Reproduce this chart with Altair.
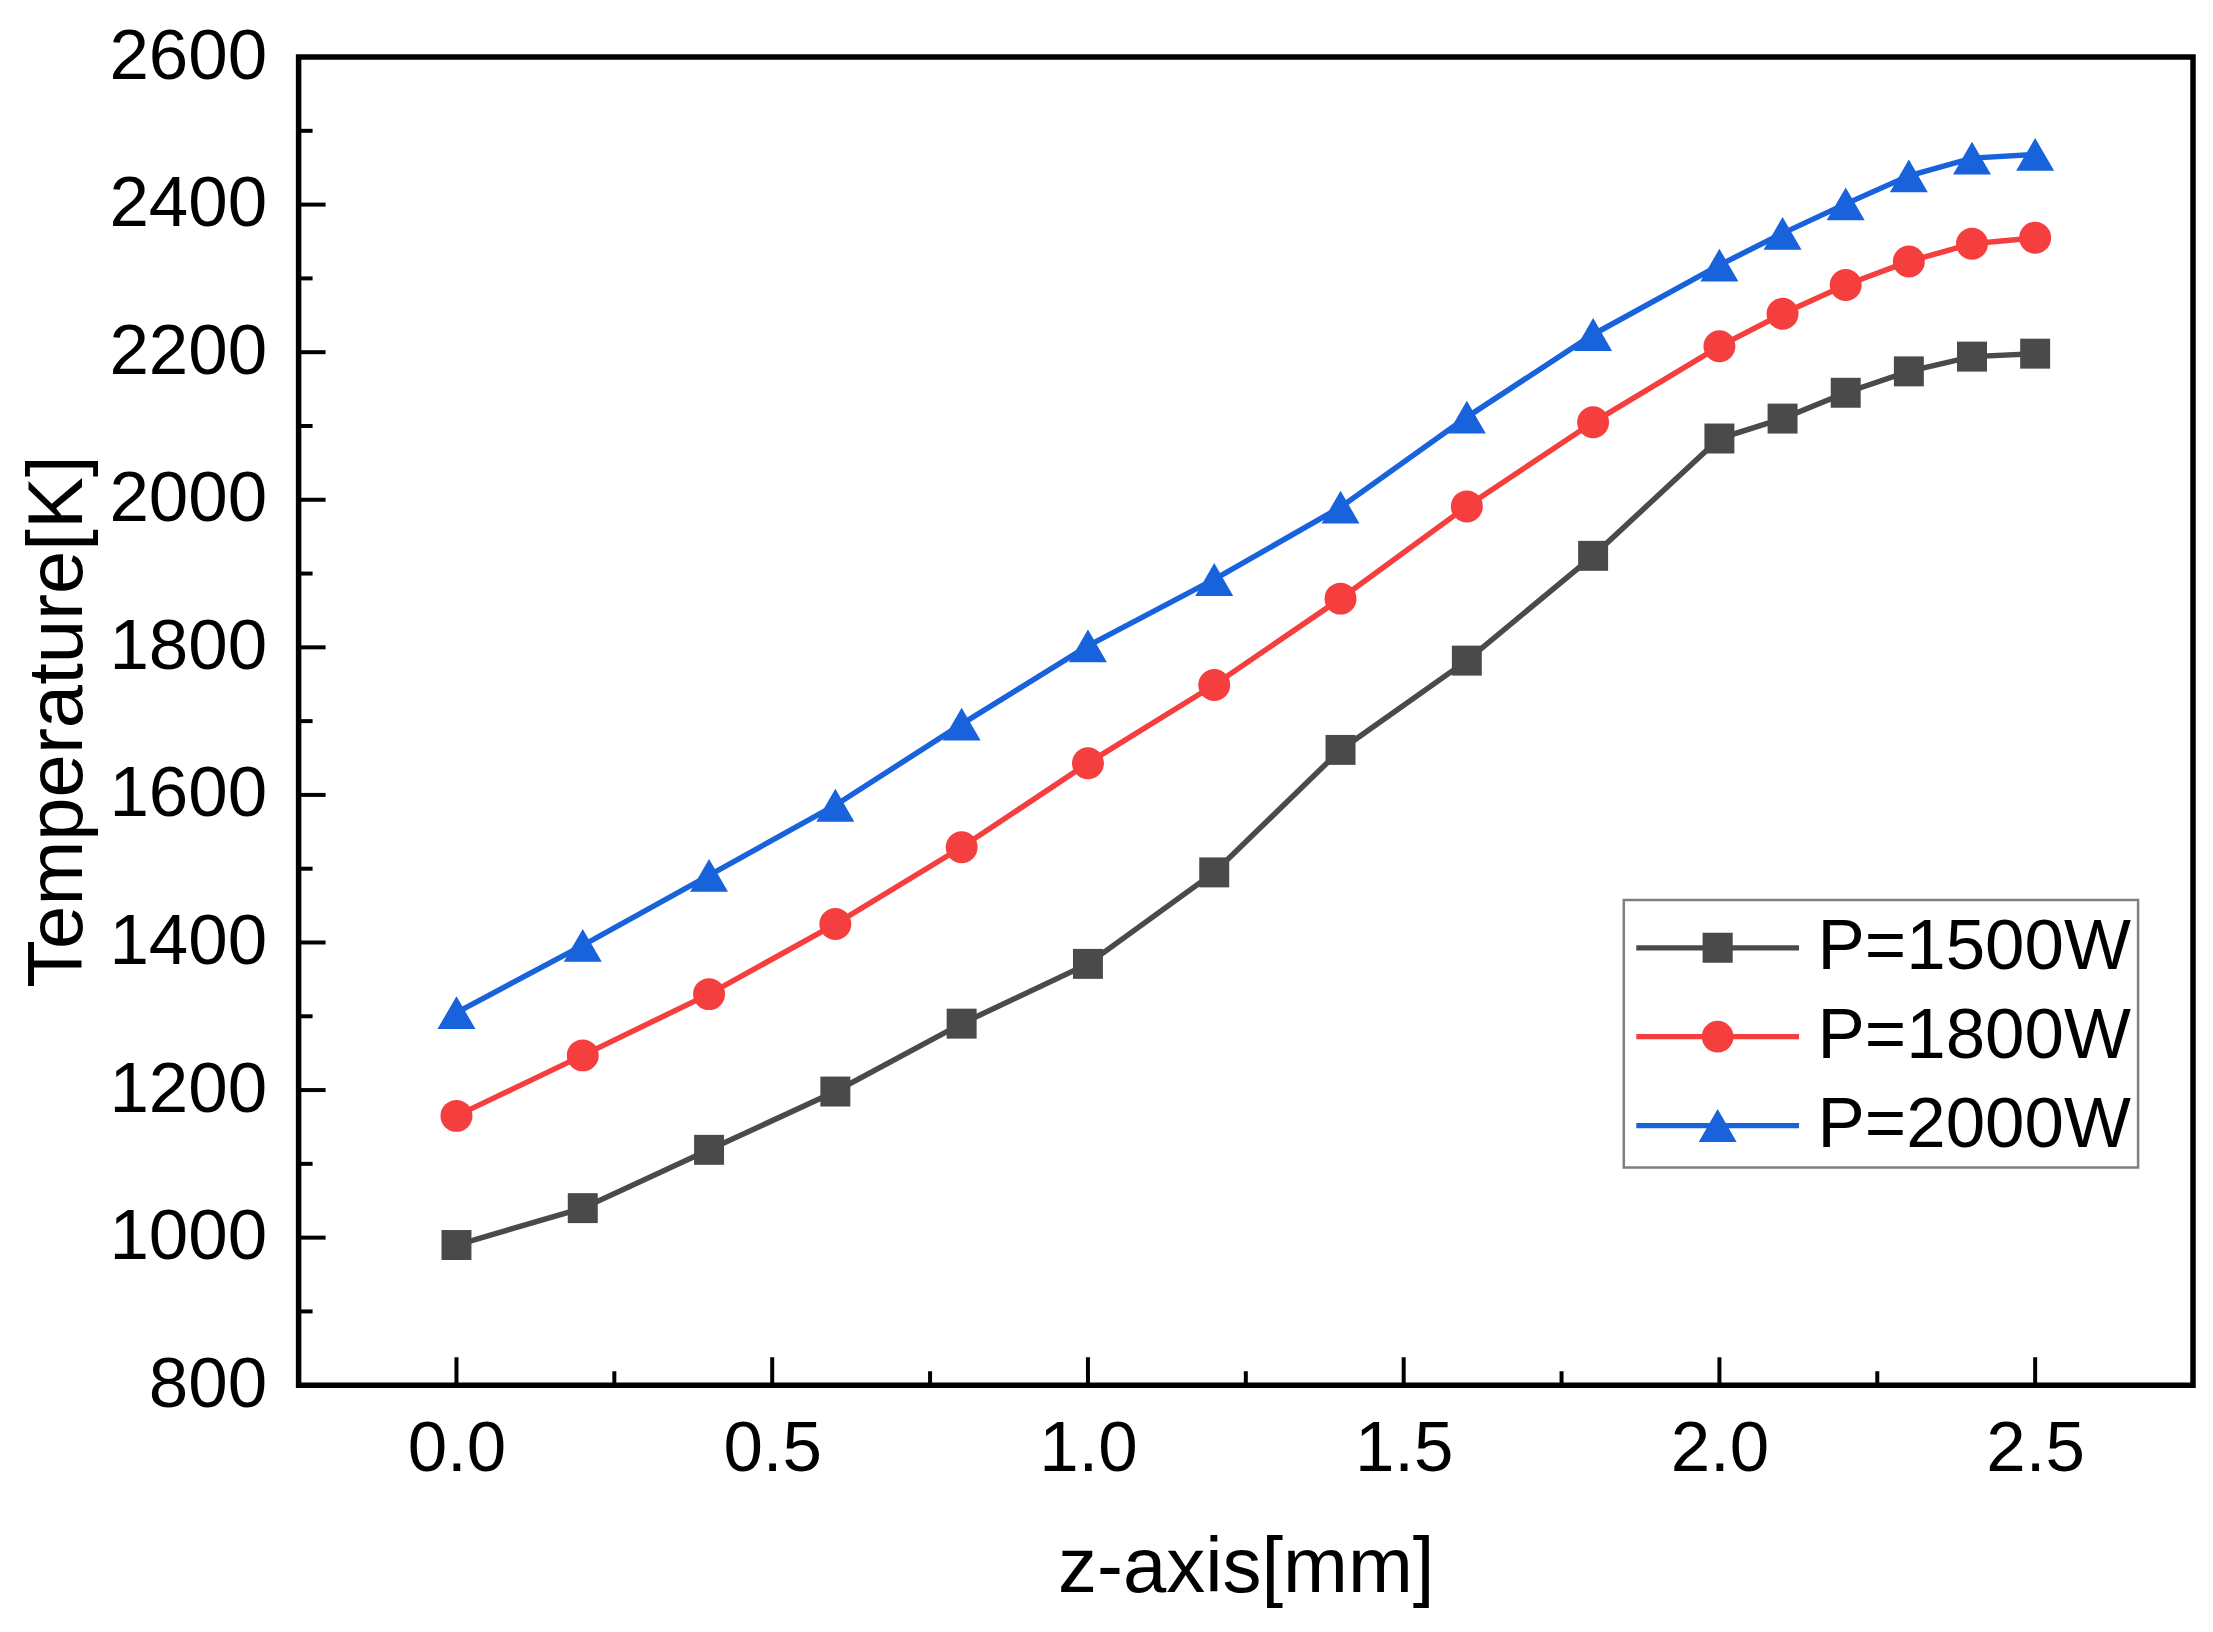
import altair as alt
import pandas as pd

# ---- data ----
z_mm = [0.0, 0.2, 0.4, 0.6, 0.8, 1.0, 1.2, 1.4, 1.6, 1.8, 2.0, 2.1, 2.2, 2.3, 2.4, 2.5]
p1500 = [990, 1040, 1119, 1198, 1290, 1371, 1495, 1661, 1782, 1924, 2083, 2110, 2145, 2174, 2194, 2198]
p1800 = [1165, 1247, 1330, 1425, 1529, 1643, 1749, 1866, 1991, 2105, 2208, 2252, 2291, 2323, 2347, 2355]
p2000 = [1305, 1396, 1491, 1586, 1696, 1802, 1892, 1990, 2112, 2224, 2318, 2361, 2401, 2439, 2463, 2468]
series_names = ["P=1500W", "P=1800W", "P=2000W"]
colors = ["#4a4a4a", "#f53e3e", "#1862dc"]
x_major = [0.0, 0.5, 1.0, 1.5, 2.0, 2.5]
x_minor = [0.25, 0.75, 1.25, 1.75, 2.25]
y_major = [800, 1000, 1200, 1400, 1600, 1800, 2000, 2200, 2400, 2600]
y_minor = [900, 1100, 1300, 1500, 1700, 1900, 2100, 2300, 2500]

rows = []
for name, vals in zip(series_names, [p1500, p1800, p2000]):
    for xv, yv in zip(z_mm, vals):
        rows.append({"z": xv, "T": yv, "series": name})
df = pd.DataFrame(rows)

W, H = 1897, 1330
FONT = "Liberation Sans"

xs = alt.Scale(domain=[-0.25, 2.75], nice=False, zero=False)
ys = alt.Scale(domain=[800, 2600], nice=False, zero=False)
cs = alt.Scale(domain=series_names, range=colors)

xaxis = alt.Axis(title="z-axis[mm]", values=x_major, format=".1f",
                 labelBaseline="alphabetic", labelPadding=85, labelFlush=False,
                 titleY=207, titleBaseline="alphabetic")
yaxis = alt.Axis(title="Temperature[K]", values=y_major, format="d",
                 labelPadding=32, labelFlush=False,
                 titleX=-217, titleY=H / 2, titleAngle=270,
                 titleBaseline="alphabetic", titleAlign="center")


def X(f):
    return alt.X(f, scale=xs, axis=xaxis)


def Y(f):
    return alt.Y(f, scale=ys, axis=yaxis)


base = alt.Chart(df)

shapes = ["square", "circle", "triangle-up"]
sizes = [900, 1024, 1444]
lines = []
points = []
for n, s, sz, c in zip(series_names, shapes, sizes, colors):
    sub = base.transform_filter(alt.datum.series == n)
    lines.append(sub.mark_line(strokeWidth=5.5, color=c).encode(x=X("z:Q"), y=Y("T:Q")))
    points.append(
        sub.mark_point(filled=True, shape=s, size=sz, color=c, opacity=1)
        .encode(x=X("z:Q"), y=Y("T:Q"))
    )

line_path = "M-2,-0.065H2V0.065H-2Z"
legend_paths = [
    line_path + " M-0.37,-0.37H0.37V0.37H-0.37Z",
    line_path + " M-0.39,0A0.39,0.39 0 1 1 0.39,0A0.39,0.39 0 1 1 -0.39,0Z",
    line_path + " M0,-0.405L0.466,0.405L-0.466,0.405Z",
]

legend_obj = alt.Legend(
    title=None, orient="none", legendX=1327, legendY=844,
    symbolSize=6642, symbolStrokeWidth=0, symbolOffset=46, symbolOpacity=1,
    labelOffset=59, labelFont=FONT, labelFontSize=71, labelColor="black",
    labelLimit=0, padding=7, strokeColor="#7f7f7f", rowPadding=13,
)

legend_layer = base.mark_point(filled=True, opacity=0).encode(
    x=X("z:Q"), y=Y("T:Q"),
    color=alt.Color("series:N", scale=cs, legend=legend_obj),
    shape=alt.Shape("series:N", scale=alt.Scale(domain=series_names, range=legend_paths),
                    legend=legend_obj),
)

xmaj = alt.Chart(pd.DataFrame({"v": x_major})).mark_rule(color="black", strokeWidth=4).encode(
    x=X("v:Q"), y=alt.value(H), y2=alt.value(H - 28))
xmin = alt.Chart(pd.DataFrame({"v": x_minor})).mark_rule(color="black", strokeWidth=4).encode(
    x=X("v:Q"), y=alt.value(H), y2=alt.value(H - 14))
ymaj = alt.Chart(pd.DataFrame({"v": y_major})).mark_rule(color="black", strokeWidth=4).encode(
    y=Y("v:Q"), x=alt.value(0), x2=alt.value(27))
ymin = alt.Chart(pd.DataFrame({"v": y_minor})).mark_rule(color="black", strokeWidth=4).encode(
    y=Y("v:Q"), x=alt.value(0), x2=alt.value(14))

chart = alt.layer(*lines, *points, legend_layer, xmaj, xmin, ymaj, ymin).properties(
    width=W, height=H,
    autosize=alt.AutoSizeParams(type="none"),
    padding={"left": 291, "top": 48, "right": 12, "bottom": 230},
    background="white",
).configure_view(
    stroke="black", strokeWidth=5.5
).configure_axis(
    grid=False, domain=False, ticks=False, tickSize=0,
    labelFont=FONT, labelFontSize=71, labelColor="black",
    titleFont=FONT, titleFontSize=78, titleColor="black", titleFontWeight="normal",
).configure_legend(
    strokeWidth=2.5
)

chart.save("out.html", embed_options={"renderer": "svg", "actions": False})
